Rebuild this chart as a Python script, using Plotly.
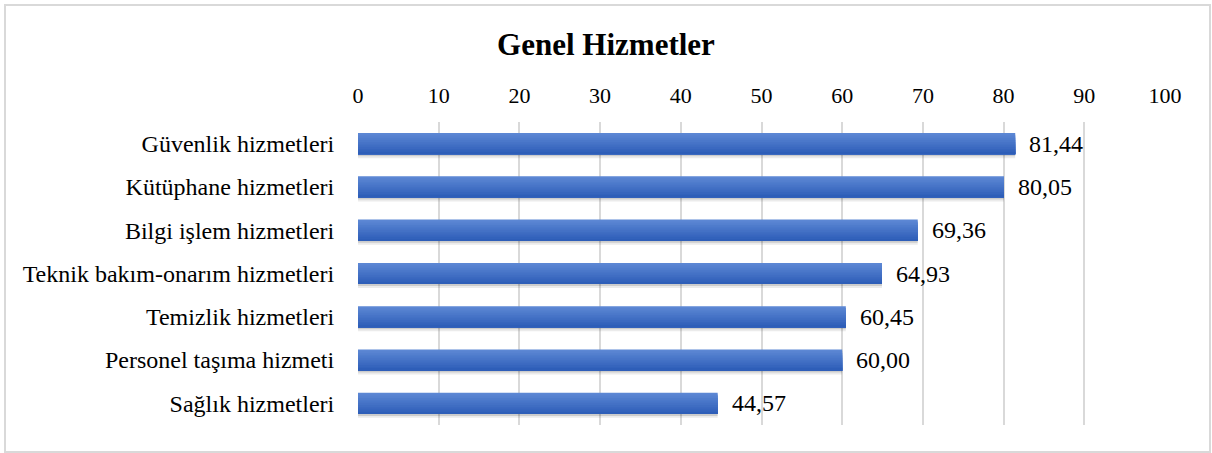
import plotly.graph_objects as go

categories = ["Güvenlik hizmetleri", "Kütüphane hizmetleri", "Bilgi işlem hizmetleri",
              "Teknik bakım-onarım hizmetleri", "Temizlik hizmetleri",
              "Personel taşıma hizmeti", "Sağlık hizmetleri"]
values = [81.44, 80.05, 69.36, 64.93, 60.45, 60.00, 44.57]
tick_vals = [0, 10, 20, 30, 40, 50, 60, 70, 80, 90, 100]

FONT = "Liberation Serif, Times New Roman, serif"
BAR_W = 0.49
TOP = (92, 135, 212)
BOT = (46, 94, 184)
N_SLICES = 12

fig = go.Figure()

# soft shadow under bars
for k, (alpha, extra) in enumerate([(0.20, 0.045), (0.08, 0.045)]):
    fig.add_trace(go.Bar(
        y=categories, x=values, orientation="h",
        width=extra, offset=BAR_W / 2 + k * extra,
        marker=dict(color=f"rgba(0,0,0,{alpha})", line=dict(width=0)),
        hoverinfo="skip", showlegend=False,
    ))

# gradient bar: each layer runs from its top to the bar bottom, overlapping the previous one
for i in range(N_SLICES):
    t = i / (N_SLICES - 1)
    c = tuple(round(TOP[j] + (BOT[j] - TOP[j]) * t) for j in range(3))
    start = -BAR_W / 2 + i * BAR_W / N_SLICES
    fig.add_trace(go.Bar(
        y=categories, x=values, orientation="h",
        width=BAR_W / 2 - start, offset=start,
        marker=dict(color=f"rgb{c}", line=dict(width=0)),
        hoverinfo="skip", showlegend=False,
    ))

for cat, v in zip(categories, values):
    fig.add_annotation(x=v, y=cat, xref="x", yref="y", text=f"{v:.2f}".replace(".", ","),
                       showarrow=False, xanchor="left", yanchor="middle", xshift=12,
                       font=dict(family=FONT, size=24, color="#000000"))

fig.update_layout(
    width=1212, height=453,
    paper_bgcolor="white", plot_bgcolor="white",
    margin=dict(l=358, r=47, t=122, b=28, autoexpand=False),
    barmode="overlay",
    showlegend=False,
    title=dict(text="<b>Genel Hizmetler</b>", x=0.5, xref="container", xanchor="center",
               y=1 - 44 / 453, yref="container", yanchor="middle",
               font=dict(family=FONT, size=31, color="#000000")),
    font=dict(family=FONT, size=22, color="#000000"),
    xaxis=dict(side="top", range=[0, 100], tickvals=tick_vals, showgrid=True,
               gridcolor="#D9D9D9", gridwidth=2, zeroline=False, showline=False,
               ticks="outside", ticklen=9, tickcolor="rgba(0,0,0,0)",
               tickfont=dict(family=FONT, size=22, color="#000000")),
    yaxis=dict(autorange="reversed", showgrid=False, zeroline=False, showline=False,
               ticks="outside", ticklen=18, tickcolor="rgba(0,0,0,0)",
               tickfont=dict(family=FONT, size=24, color="#000000")),
)
fig.add_shape(type="rect", xref="paper", yref="paper",
              x0=(5 - 358) / 807, x1=(1210 - 358) / 807,
              y0=(425 - 452) / 303, y1=(425 - 5) / 303,
              line=dict(color="#D9D9D9", width=2), fillcolor="rgba(0,0,0,0)", layer="below")

fig.write_html("out.html", config={"displayModeBar": False},
               post_script="document.body.style.margin='0';document.body.style.padding='0';")
